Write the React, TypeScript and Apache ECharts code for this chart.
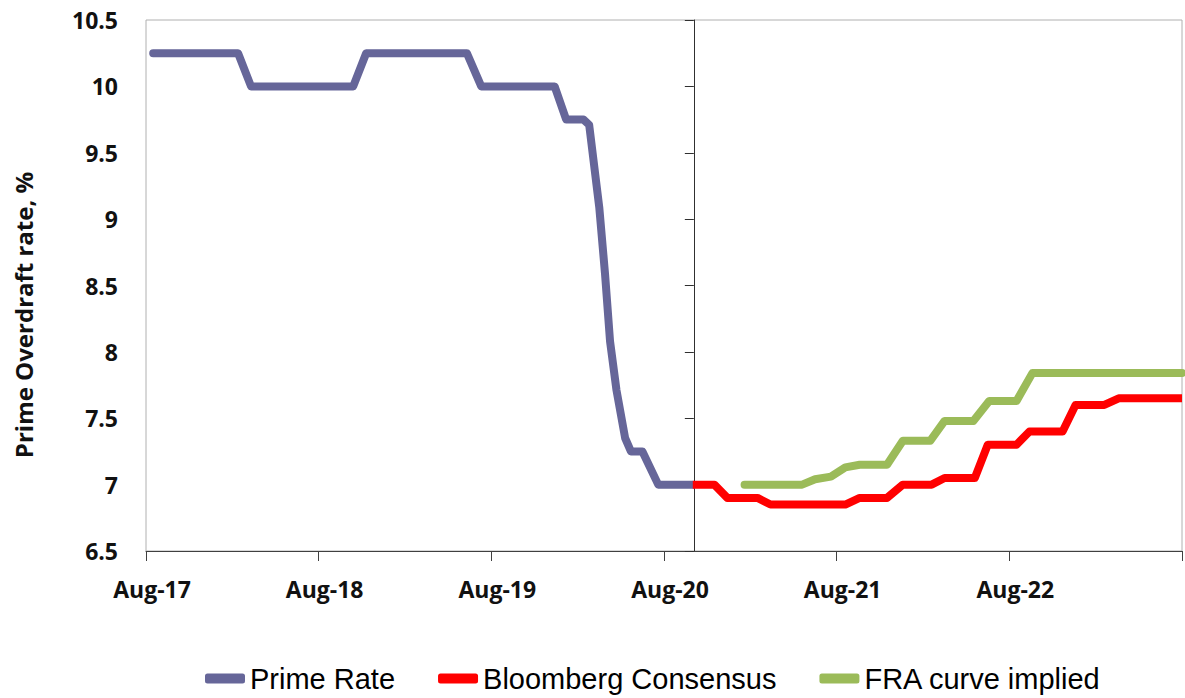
import React, { useEffect, useRef } from "react";
import * as echarts from "echarts";

// x values are months since Aug-17
const xTickLabels = ["Aug-17", "Aug-18", "Aug-19", "Aug-20", "Aug-21", "Aug-22"];

const primeX = [0.5, 6.4, 7.3, 14.4, 15.3, 22.3, 23.3, 28.4, 29.2, 30.4, 30.8, 31.5, 31.9, 32.25, 32.7, 33.3, 33.7, 34.5, 35.6, 38];
const primeY = [10.25, 10.25, 10, 10, 10.25, 10.25, 10, 10, 9.75, 9.75, 9.71, 9.09, 8.59, 8.08, 7.71, 7.35, 7.25, 7.25, 7.0, 7.0];

const bbgX = [38, 39.5, 40.4, 42.5, 43.4, 48.6, 49.6, 51.5, 52.6, 54.6, 55.5, 57.6, 58.5, 60.5, 61.4, 63.7, 64.6, 66.6, 67.6, 72];
const bbgY = [7.0, 7.0, 6.9, 6.9, 6.85, 6.85, 6.9, 6.9, 7.0, 7.0, 7.05, 7.05, 7.3, 7.3, 7.4, 7.4, 7.6, 7.6, 7.65, 7.65];

const fraX = [41.6, 45.6, 46.5, 47.6, 48.6, 49.6, 51.5, 52.6, 54.5, 55.5, 57.5, 58.6, 60.5, 61.6, 72];
const fraY = [7.0, 7.0, 7.04, 7.06, 7.13, 7.15, 7.15, 7.33, 7.33, 7.48, 7.48, 7.63, 7.63, 7.84, 7.84];

const X_MIN = 0;
const X_MAX = 72;
const X_CROSS = 38; // vertical axis crosses at Oct-20
const Y_MIN = 6.5;
const Y_MAX = 10.5;

const zip = (xs: number[], ys: number[]) => xs.map((x, i) => [x, ys[i]]);

export default function App() {
  const ref = useRef<HTMLDivElement>(null);
  useEffect(() => {
    if (!ref.current) return;
    const chart = echarts.init(ref.current, null, { renderer: "svg" });
    const gridLeft = 146;
    const gridRight = 1;
    const plotW = 1185 - gridLeft - gridRight;
    const crossOffset = -((X_CROSS - X_MIN) / (X_MAX - X_MIN)) * plotW;
    const axisFont = { fontFamily: "Open Sans", fontWeight: "bold" as const, fontSize: 23, color: "#111" };
    chart.setOption({
      animation: false,
      backgroundColor: "#fff",
      grid: {
        left: gridLeft,
        right: gridRight,
        top: 20,
        bottom: 147,
        show: true,
        borderColor: "#b0b0b0",
        borderWidth: 1,
      },
      xAxis: {
        type: "value",
        min: X_MIN,
        max: X_MAX,
        interval: 12,
        splitLine: { show: false },
        axisLine: { show: true, lineStyle: { color: "#404040", width: 1 } },
        axisTick: { show: true, length: 10, lineStyle: { color: "#404040" } },
        axisLabel: {
          ...axisFont,
          margin: 26,
          padding: [0, 0, 0, 12],
          formatter: (v: number) => {
            const i = Math.round(v / 12);
            return xTickLabels[i] ?? "";
          },
        },
      },
      yAxis: [
        {
          type: "value",
          min: Y_MIN,
          max: Y_MAX,
          interval: 0.5,
          position: "left",
          offset: 0,
          splitLine: { show: false },
          axisLine: { show: false },
          axisTick: { show: false },
          axisLabel: { ...axisFont, margin: 28 },
        },
        {
          type: "value",
          min: Y_MIN,
          max: Y_MAX,
          interval: 0.5,
          position: "left",
          offset: crossOffset,
          splitLine: { show: false },
          axisLine: { show: true, lineStyle: { color: "#303030", width: 1 } },
          axisTick: { show: true, length: 9, lineStyle: { color: "#303030" } },
          axisLabel: { show: false },
        },
      ],
      legend: {
        left: 200,
        top: 659,
        icon: "roundRect",
        itemWidth: 40,
        itemHeight: 10,
        itemGap: 43,
        textStyle: { fontFamily: "Liberation Sans", fontSize: 29, color: "#000" },
        data: ["Prime Rate", "Bloomberg Consensus", "FRA curve implied"],
      },
      graphic: [
        {
          type: "text",
          x: 23,
          y: 315,
          rotation: Math.PI / 2,
          style: {
            text: "Prime Overdraft rate, %",
            fontFamily: "Open Sans",
            fontWeight: "bold",
            fontSize: 24,
            fill: "#111",
            textAlign: "center",
            textVerticalAlign: "middle",
          },
        },
      ],
      series: [
        {
          name: "Prime Rate",
          type: "line",
          data: zip(primeX, primeY),
          showSymbol: false,
          symbol: "none",
          itemStyle: { color: "#666699" },
          lineStyle: { color: "#666699", width: 8, cap: "round", join: "round" },
        },
        {
          name: "Bloomberg Consensus",
          type: "line",
          data: zip(bbgX, bbgY),
          showSymbol: false,
          symbol: "none",
          itemStyle: { color: "#ff0000" },
          lineStyle: { color: "#ff0000", width: 8, cap: "butt", join: "round" },
        },
        {
          name: "FRA curve implied",
          type: "line",
          data: zip(fraX, fraY),
          showSymbol: false,
          symbol: "none",
          itemStyle: { color: "#9bbb59" },
          lineStyle: { color: "#9bbb59", width: 8, cap: "round", join: "round" },
        },
      ],
    });
    return () => chart.dispose();
  }, []);
  return (
    <div
      ref={ref}
      style={{ position: "absolute", left: 0, top: 0, width: 1185, height: 698 }}
    />
  );
}
